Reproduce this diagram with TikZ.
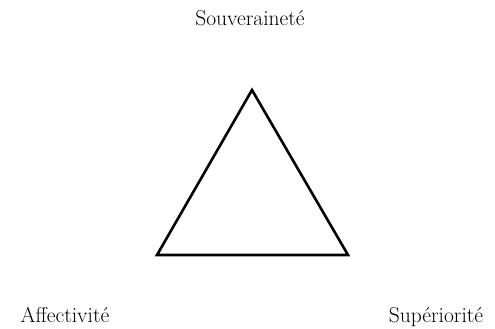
\documentclass[tikz,border=0pt]{standalone}
\usepackage{tikz}
\usetikzlibrary{positioning}

\begin{document}
\begin{tikzpicture}[
  x=1pt, y=1pt,
  lbl/.style={font=\fontsize{21.5}{25}\selectfont, inner sep=0pt, anchor=base},
  tri/.style={draw, line width=2.6pt, line join=miter}]
\useasboundingbox (0,0) rectangle (495,329);
\coordinate (top) at (252,239);
\coordinate (left) at (157,74);
\coordinate (right) at (348,74);
\node[lbl] (souv) at (250,303) {Souveraineté};
\node[lbl] (aff) at (65,6) {Affectivité};
\node[lbl] (sup) at (436,6) {Supériorité};
\draw[tri] (top) -- (left) -- (right) -- cycle;
\end{tikzpicture}
\end{document}
